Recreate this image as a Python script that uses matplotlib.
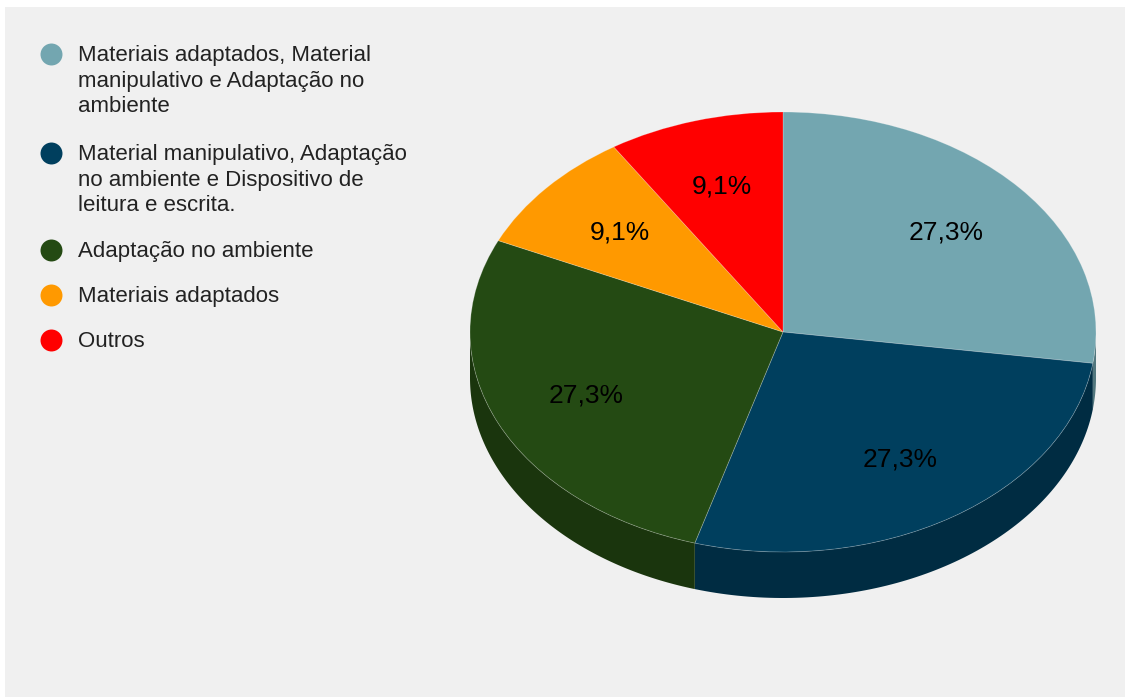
import numpy as np
import matplotlib
matplotlib.use('Agg')
import matplotlib.pyplot as plt
from matplotlib.patches import Rectangle, Polygon

plt.rcParams['font.family'] = ['Liberation Sans', 'DejaVu Sans']

# dados
categorias = [
    'Materiais adaptados, Material\nmanipulativo e Adaptação no\nambiente',
    'Material manipulativo, Adaptação\nno ambiente e Dispositivo de\nleitura e escrita.',
    'Adaptação no ambiente',
    'Materiais adaptados',
    'Outros',
]
valores = [3, 3, 3, 1, 1]
cores = ['#73a6b0', '#003f5e', '#244a13', '#ff9900', '#ff0000']
cores_lado = ['#52777e', '#002c42', '#1a350d', '#b36b00', '#b30000']

W, H = 1125, 697
fig = plt.figure(figsize=(W / 100, H / 100), dpi=100, facecolor='white')

# fundo cinza
bg = fig.add_axes([0, 0, 1, 1])
bg.set_xlim(0, W)
bg.set_ylim(H, 0)
bg.axis('off')
bg.add_patch(Rectangle((5, 7), W - 5, H - 7, facecolor='#f0f0f0', edgecolor='none'))

# legenda
ly = [54, 153, 250, 295, 340]
for y, cor, cat in zip(ly, cores, categorias):
    bg.scatter([51], [y], s=250, color=cor, zorder=3, linewidths=0)
    bg.text(78, y - 9, cat, fontsize=16, color='#222222', va='top', ha='left',
            linespacing=1.29)

# pizza 3D (elipse: centro 783,332; raios 313 x 220; profundidade 46 px)
cx, cy, rx, ry, prof = 783, 332, 313, 220, 46
d = prof / ry
ax = fig.add_axes([(cx - rx) / W, (H - (cy + ry + prof)) / H,
                   2 * rx / W, (2 * ry + prof) / H])

total = sum(valores)
ini = 0.0
for v, cl in zip(valores, cores_lado):
    fim = ini + v / total * 360
    # parte frontal visível (90..270 graus no sentido horário a partir do topo)
    a, b = max(ini, 90), min(fim, 270)
    if a < b:
        t = np.radians(90 - np.linspace(a, b, 100))
        xs, ys = np.cos(t), np.sin(t)
        pts = np.column_stack([np.r_[xs, xs[::-1]], np.r_[ys, ys[::-1] - d]])
        ax.add_patch(Polygon(pts, closed=True, facecolor=cl, edgecolor='none'))
    ini = fim

wedges, textos, autotextos = ax.pie(
    valores, colors=cores, startangle=90, counterclock=False,
    autopct=lambda p: f'{p:.1f}%'.replace('.', ','), pctdistance=0.69,
    wedgeprops=dict(edgecolor=(1, 1, 1, 0.25), linewidth=0.6),
    textprops=dict(fontsize=19, color='black'))

ax.set_aspect('auto')
ax.set_xlim(-1, 1)
ax.set_ylim(-1 - d, 1)
ax.axis('off')

plt.savefig('out.png', dpi=100, facecolor='white')
